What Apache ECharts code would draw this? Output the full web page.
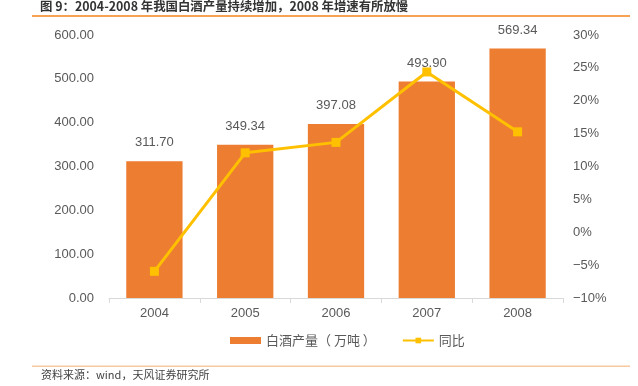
<!DOCTYPE html>
<html><head><meta charset="utf-8">
<script src="https://cdn.jsdelivr.net/npm/echarts@6/dist/echarts.min.js"></script>
<style>html,body{margin:0;padding:0;background:#fff}#wrap{position:relative;width:638px;height:386px}#c{width:638px;height:386px}
#tl{position:absolute;left:32px;top:15px;width:598px;height:0;border-top:2px solid #F7A154;z-index:5}</style>
</head><body><div id="wrap"><div id="c"></div><div id="tl"></div></div>
<script>
var years = ['2004','2005','2006','2007','2008'];
var output = [311.70, 349.34, 397.08, 493.90, 569.34];
var yoy = [-5.94, 12.08, 13.67, 24.38, 15.27];
var leftTicks = {min: 0, max: 600, interval: 100};
var rightTicks = {min: -10, max: 30, interval: 5};

var chart = echarts.init(document.getElementById('c'), null, {renderer: 'canvas'});
var font = '"Liberation Sans", Arial, sans-serif';
var cjk = '"Noto Sans CJK SC", sans-serif';
chart.setOption({
  animation: false,
  graphic: {
    elements: [
      {type: 'rect', id: 'topline', z: 100, shape: {x: 32, y: 15, width: 598, height: 2}, style: {fill: '#F7A154'}},
      {type: 'rect', id: 'botline', z: 100, shape: {x: 32, y: 365.5, width: 598, height: 1.5}, style: {fill: '#F8C9A0'}},
      {type: 'text', id: 'ttl', z: 100, left: 40, top: 0, style: {text: '图 9：2004-2008 年我国白酒产量持续增加，2008 年增速有所放慢', fontSize: 12.4, fontWeight: 'bold', fill: '#333', fontFamily: cjk}},
      {type: 'text', id: 'src', z: 100, left: 41, top: 369, style: {text: '资料来源：wind，天风证券研究所', fontSize: 11, fill: '#444', fontFamily: cjk}}
    ]
  },
  grid: {left: 109, right: 75, top: 35, bottom: 88},
  legend: {
    bottom: 34, left: 225,
    itemGap: 26,
    textStyle: {fontSize: 13, color: '#595959', fontFamily: cjk},
    data: [
      {name: '白酒产量（ 万吨 ）', icon: 'rect', itemStyle: {color: '#ED7D31'}},
      {name: '同比'}
    ],
    itemWidth: 31, itemHeight: 7
  },
  xAxis: {
    type: 'category', data: years,
    axisLine: {lineStyle: {color: '#D9D9D9'}},
    axisTick: {show: true, length: 5, lineStyle: {color: '#D9D9D9'}},
    axisLabel: {color: '#595959', fontSize: 13, margin: 9, fontFamily: font}
  },
  yAxis: [
    {type: 'value', min: leftTicks.min, max: leftTicks.max, interval: leftTicks.interval,
     splitLine: {show: false}, axisLine: {show: false}, axisTick: {show: false},
     axisLabel: {color: '#595959', fontSize: 13, margin: 15, fontFamily: font,
       formatter: function(v){return v.toFixed(2);}}},
    {type: 'value', min: rightTicks.min, max: rightTicks.max, interval: rightTicks.interval,
     splitLine: {show: false}, axisLine: {show: false}, axisTick: {show: false},
     axisLabel: {color: '#595959', fontSize: 13, margin: 10, fontFamily: font,
       formatter: function(v){return (v < 0 ? '\u2212' + (-v) : v) + '%';}}}
  ],
  series: [
    {name: '白酒产量（ 万吨 ）', type: 'bar', data: output, barWidth: '62%',
     itemStyle: {color: '#ED7D31'},
     label: {show: true, position: 'top', distance: 12, color: '#595959', fontSize: 13, fontFamily: font,
       formatter: function(p){return p.value.toFixed(2);}}},
    {name: '同比', type: 'line', yAxisIndex: 1, data: yoy,
     lineStyle: {color: '#FFC000', width: 3}, itemStyle: {color: '#FFC000'},
     symbol: 'rect', symbolSize: 9, z: 5}
  ]
});
</script></body></html>
